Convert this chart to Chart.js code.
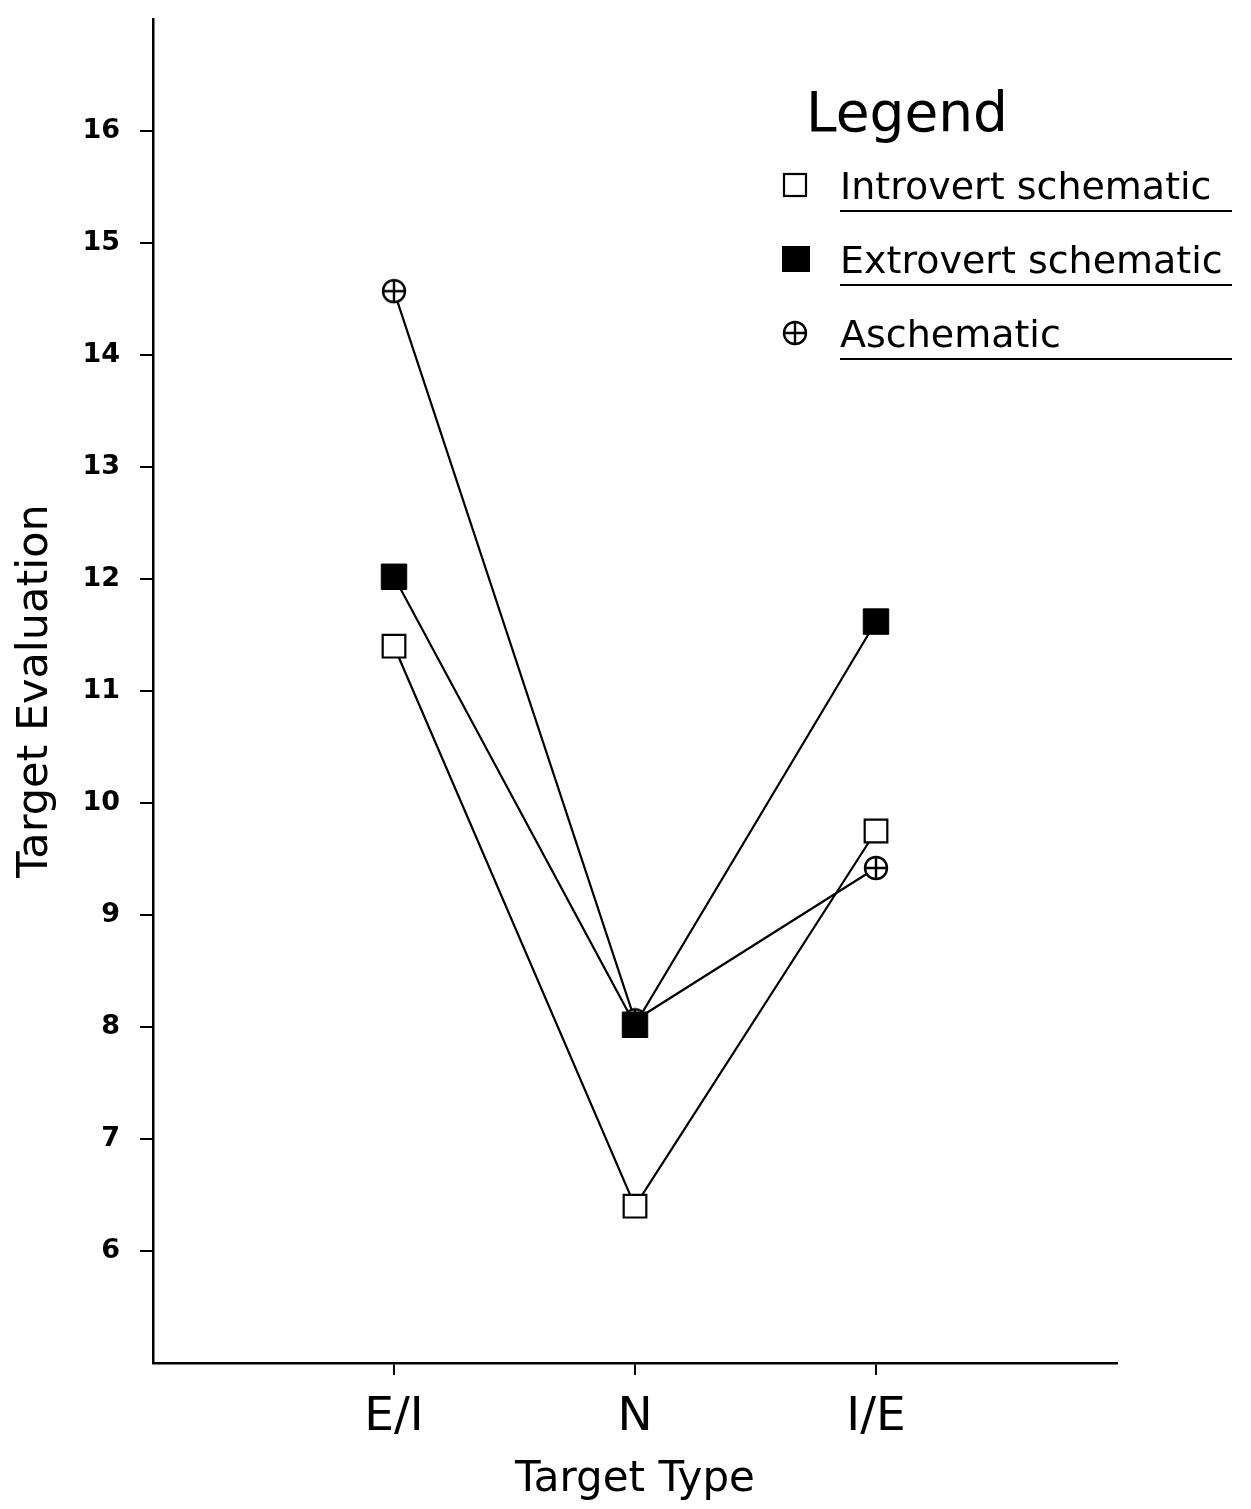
<!DOCTYPE html>
<html>
<head>
<meta charset="utf-8">
<script src="https://cdn.jsdelivr.net/npm/chart.js@4/dist/chart.umd.min.js"></script>
<style>
  html, body { margin: 0; padding: 0; background: #fff; }
  #wrap { width: 1251px; height: 1509px; }
</style>
</head>
<body>
<div id="wrap"><canvas id="myChart" width="1251" height="1509"></canvas></div>
<script>
const categories = ["E/I", "N", "I/E"];
const introvert = [11.4, 6.4, 9.75];
const extrovert = [12.02, 8.02, 11.62];
const aschematic = [14.57, 8.06, 9.42];
const yTicks = [6, 7, 8, 9, 10, 11, 12, 13, 14, 15, 16];

const FONT = "'DejaVu Sans', sans-serif";

// circle with a plus inside, used as point style
function crossCircle(d) {
  const c = document.createElement("canvas");
  c.width = d + 4; c.height = d + 4;
  const g = c.getContext("2d");
  const m = c.width / 2;
  g.strokeStyle = "#000";
  g.lineWidth = 2.4;
  g.fillStyle = "#fff";
  g.beginPath(); g.arc(m, m, d / 2, 0, Math.PI * 2); g.fill(); g.stroke();
  g.beginPath();
  g.moveTo(m - d / 2, m); g.lineTo(m + d / 2, m);
  g.moveTo(m, m - d / 2); g.lineTo(m, m + d / 2);
  g.stroke();
  return c;
}
const circPlus = crossCircle(22);

function pts(arr) {
  return arr.map((v, i) => ({ x: i + 1, y: v }));
}

let legendBox = {
  id: "legendBox",
  afterDraw(chart) {
    const ctx = chart.ctx;
    ctx.save();
    ctx.fillStyle = "#000";
    ctx.strokeStyle = "#000";
    ctx.textBaseline = "alphabetic";
    ctx.font = "55px " + FONT;
    ctx.fillText("Legend", 806, 131);
    const rows = [185, 259, 333];
    ctx.font = "38px " + FONT;
    chart.data.datasets.forEach((ds, i) => {
      const y = rows[i];
      ctx.fillText(ds.label, 840, y + 14);
      ctx.lineWidth = 2.2;
      ctx.beginPath();
      ctx.moveTo(840, y + 26);
      ctx.lineTo(1232, y + 26);
      ctx.stroke();
      if (ds.pointStyle === "rect") {
        ctx.lineWidth = 2.2;
        if (ds.pointBackgroundColor === "#000") {
          ctx.fillRect(782, y - 13, 28, 26);
        } else {
          ctx.strokeRect(784, y - 11, 22, 22);
        }
      } else {
        ctx.drawImage(circPlus, 795 - circPlus.width / 2, y - circPlus.height / 2);
      }
    });
    ctx.restore();
  }
};

let myChart = document.getElementById("myChart").getContext("2d");

let evalChart = new Chart(myChart, {
  type: "line",
  data: {
    datasets: [
      {
        label: "Introvert schematic",
        data: pts(introvert),
        borderColor: "#000",
        borderWidth: 2.2,
        pointStyle: "rect",
        pointRadius: 16,
        pointBorderWidth: 2.2,
        pointBackgroundColor: "#fff",
        pointBorderColor: "#000",
        order: 1,
      },
      {
        label: "Extrovert schematic",
        data: pts(extrovert),
        borderColor: "#000",
        borderWidth: 2.2,
        pointStyle: "rect",
        pointRadius: 18,
        pointBorderWidth: 1,
        pointBackgroundColor: "#000",
        pointBorderColor: "#000",
        order: 0,
      },
      {
        label: "Aschematic",
        data: pts(aschematic),
        borderColor: "#000",
        borderWidth: 2.2,
        pointStyle: circPlus,
        pointRadius: 12,
        order: 2,
      },
    ],
  },
  options: {
    responsive: false,
    animation: false,
    layout: { padding: { top: 6, right: 134, left: 0, bottom: 0 } },
    plugins: {
      legend: { display: false },
      tooltip: { enabled: false },
    },
    scales: {
      x: {
        type: "linear",
        min: 0,
        max: 4,
        afterBuildTicks: (s) => { s.ticks = categories.map((c, i) => ({ value: i + 1 })); },
        afterFit: (s) => { s.height = 146; s.paddingLeft = 0; s.paddingRight = 0; },
        ticks: {
          color: "#000",
          font: { family: FONT, size: 47 },
          padding: 15,
          maxRotation: 0,
          callback: (v) => categories[v - 1] || "",
        },
        grid: { drawOnChartArea: false, drawTicks: true, tickLength: 12, color: "#000", lineWidth: 2 },
        border: { display: true, color: "#000", width: 2.5 },
        title: { display: true, text: "Target Type", color: "#000", font: { family: FONT, size: 42 }, padding: { top: 0 } },
      },
      y: {
        min: 5,
        max: 17,
        afterBuildTicks: (s) => { s.ticks = yTicks.map((v) => ({ value: v })); },
        afterFit: (s) => { s.width = 153; s.paddingTop = 0; s.paddingBottom = 0; },
        ticks: {
          color: "#000",
          font: { family: FONT, size: 27, weight: "bold" },
          padding: 20,
        },
        grid: { drawOnChartArea: false, drawTicks: true, tickLength: 13, color: "#000", lineWidth: 2 },
        border: { display: true, color: "#000", width: 2.5 },
        title: { display: true, text: "Target Evaluation", color: "#000", font: { family: FONT, size: 43 }, padding: { bottom: 0, top: 10 } },
      },
    },
  },
  plugins: [legendBox],
});
</script>
</body>
</html>
